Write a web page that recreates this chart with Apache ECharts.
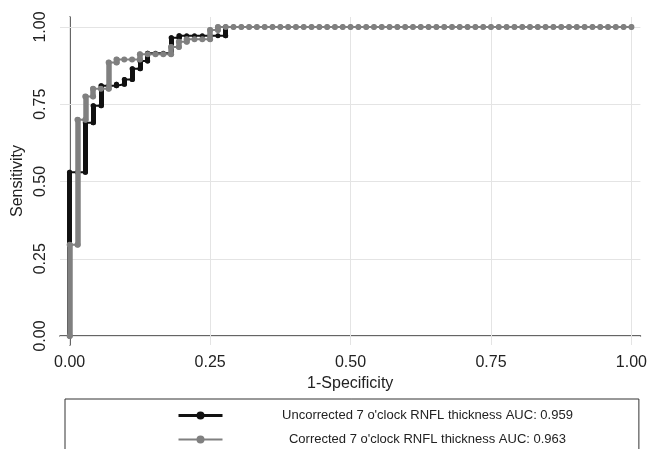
<!DOCTYPE html>
<html>
<head>
<meta charset="utf-8">
<script src="https://cdn.jsdelivr.net/npm/echarts@6/dist/echarts.min.js"></script>
<style>
  html, body { margin: 0; padding: 0; background: #fff; }
  #chart { width: 650px; height: 449px; }
</style>
</head>
<body>
<div id="chart"></div>
<script>
// tick positions shared by both axes
let ticks = [0, 0.25, 0.5, 0.75, 1]

// ROC steps, [1-specificity, sensitivity]
let uncorrectedPts = [
    [0, 0], [0, 0.53],
    [0.0139, 0.53],
    [0.0278, 0.53], [0.0278, 0.69],
    [0.0417, 0.69], [0.0417, 0.745],
    [0.0556, 0.745], [0.0556, 0.81],
    [0.0694, 0.81],
    [0.0833, 0.81], [0.0833, 0.815],
    [0.0972, 0.815], [0.0972, 0.83],
    [0.1111, 0.83], [0.1111, 0.865],
    [0.125, 0.865], [0.125, 0.89],
    [0.1389, 0.89], [0.1389, 0.915],
    [0.1528, 0.915],
    [0.1667, 0.915],
    [0.1806, 0.915], [0.1806, 0.965],
    [0.1944, 0.965], [0.1944, 0.972],
    [0.2083, 0.972],
    [0.2222, 0.972],
    [0.2361, 0.972],
    [0.25, 0.972],
    [0.2639, 0.972],
    [0.2778, 0.972], [0.2778, 1]
]

let correctedPts = [
    [0, 0], [0, 0.295],
    [0.0139, 0.295], [0.0139, 0.70],
    [0.0278, 0.70], [0.0278, 0.775],
    [0.0417, 0.775], [0.0417, 0.80],
    [0.0556, 0.80],
    [0.0694, 0.80], [0.0694, 0.885],
    [0.0833, 0.885], [0.0833, 0.895],
    [0.0972, 0.895],
    [0.1111, 0.895],
    [0.125, 0.895], [0.125, 0.912],
    [0.1389, 0.912],
    [0.1528, 0.912],
    [0.1667, 0.912],
    [0.1806, 0.912], [0.1806, 0.935],
    [0.1944, 0.935], [0.1944, 0.952],
    [0.2083, 0.952], [0.2083, 0.96],
    [0.2222, 0.96],
    [0.2361, 0.96],
    [0.25, 0.96], [0.25, 0.99],
    [0.2639, 0.99], [0.2639, 1],
    [0.2778, 1]
]

// remaining false-positive fractions once sensitivity hits 1
let tailFpr = [0.2917, 0.3056, 0.3194, 0.3333, 0.3472, 0.3611, 0.375, 0.3889, 0.4028, 0.4167,
    0.4306, 0.4444, 0.4583, 0.4722, 0.4861, 0.5, 0.5139, 0.5278, 0.5417, 0.5556,
    0.5694, 0.5833, 0.5972, 0.6111, 0.625, 0.6389, 0.6528, 0.6667, 0.6806, 0.6944,
    0.7083, 0.7222, 0.7361, 0.75, 0.7639, 0.7778, 0.7917, 0.8056, 0.8194, 0.8333,
    0.8472, 0.8611, 0.875, 0.8889, 0.9028, 0.9167, 0.9306, 0.9444, 0.9583, 0.9722,
    0.9861, 1]

let names = [
    "Uncorrected 7 o'clock RNFL thickness AUC: 0.959",
    "Corrected 7 o'clock RNFL thickness AUC: 0.963"
]

let black = '#111111'
let grey = '#808080'
let gridGrey = '#e4e4e4'
let textColor = '#222'
let font = 'Liberation Sans, Arial, Helvetica, sans-serif'

function withTail(pts) {
    return pts.concat(tailFpr.map(function(f) { return [f, 1] }))
}

// vertical runs (same x) drawn thick, like the stacked markers in the original
function verticalRuns(pts) {
    let out = []
    for (let i = 1; i < pts.length; i++) {
        if (pts[i][0] === pts[i - 1][0]) {
            out.push({ coords: [pts[i - 1], pts[i]] })
        }
    }
    return out
}

function runSeries(pts, color, width, z) {
    return {
        type: 'lines',
        coordinateSystem: 'cartesian2d',
        silent: true,
        z: z,
        lineStyle: { color: color, width: width, opacity: 1, cap: 'round' },
        data: verticalRuns(pts)
    }
}

function curveSeries(name, pts, color, lw, size, z) {
    return {
        name: name,
        type: 'line',
        z: z,
        data: withTail(pts),
        symbol: 'circle',
        symbolSize: size,
        showAllSymbol: true,
        lineStyle: { color: color, width: lw },
        itemStyle: { color: color },
        emphasis: { disabled: true }
    }
}

let chart = echarts.init(document.getElementById('chart'), null, { renderer: 'canvas' })

let gridLines = ticks.map(function(t) { return { xAxis: t } })
    .concat(ticks.map(function(t) { return { yAxis: t } }))

let option = {
    animation: false,
    textStyle: { fontFamily: font, color: textColor },
    grid: { left: 60, right: 8, top: 17, bottom: 104 },
    xAxis: {
        type: 'value',
        min: -0.0172,
        max: 1.016,
        name: '1-Specificity',
        nameLocation: 'middle',
        nameGap: 27,
        nameTextStyle: { fontSize: 16, color: textColor, fontFamily: font },
        axisLine: { lineStyle: { color: '#333', width: 1.5 } },
        axisTick: { show: true, length: 6, lineStyle: { color: '#333' }, customValues: ticks },
        axisLabel: {
            fontSize: 16, color: textColor, margin: 10, customValues: ticks,
            formatter: function(v) { return v.toFixed(2) }
        },
        splitLine: { show: false }
    },
    yAxis: {
        type: 'value',
        min: -0.0291,
        max: 1.0324,
        name: 'Sensitivity',
        nameLocation: 'middle',
        nameGap: 33,
        nameRotate: 90,
        nameTextStyle: { fontSize: 16, color: textColor, fontFamily: font },
        axisLine: { show: true, lineStyle: { color: '#333', width: 1.5 } },
        axisTick: { show: true, length: 6, lineStyle: { color: '#333' }, customValues: ticks },
        axisLabel: {
            fontSize: 16, color: textColor, margin: 11, rotate: 90, customValues: ticks,
            formatter: function(v) { return v.toFixed(2) }
        },
        splitLine: { show: false }
    },
    legend: {
        data: [
            { name: names[0], lineStyle: { width: 3 } },
            { name: names[1], lineStyle: { width: 2 } }
        ],
        orient: 'vertical',
        left: 65,
        top: 399,
        height: 120,
        padding: [10, 66, 8, 112],
        itemWidth: 44,
        itemHeight: 10,
        itemGap: 11,
        borderColor: '#333',
        borderWidth: 1,
        selectedMode: false,
        formatter: function(name) { return '{t|' + name + '}' },
        textStyle: {
            rich: { t: { width: 400, align: 'center', fontSize: 13, color: textColor, fontFamily: font } }
        }
    },
    series: [
        {
            type: 'line',
            data: [],
            silent: true,
            markLine: {
                z: 1,
                silent: true,
                symbol: 'none',
                label: { show: false },
                lineStyle: { color: gridGrey, width: 1, type: 'solid' },
                emphasis: { disabled: true },
                data: gridLines
            }
        },
        runSeries(uncorrectedPts, black, 5, 3),
        curveSeries(names[0], uncorrectedPts, black, 2, 5, 4),
        runSeries(correctedPts, grey, 5.5, 5),
        curveSeries(names[1], correctedPts, grey, 2, 6, 6)
    ]
}

chart.setOption(option)
</script>
</body>
</html>
